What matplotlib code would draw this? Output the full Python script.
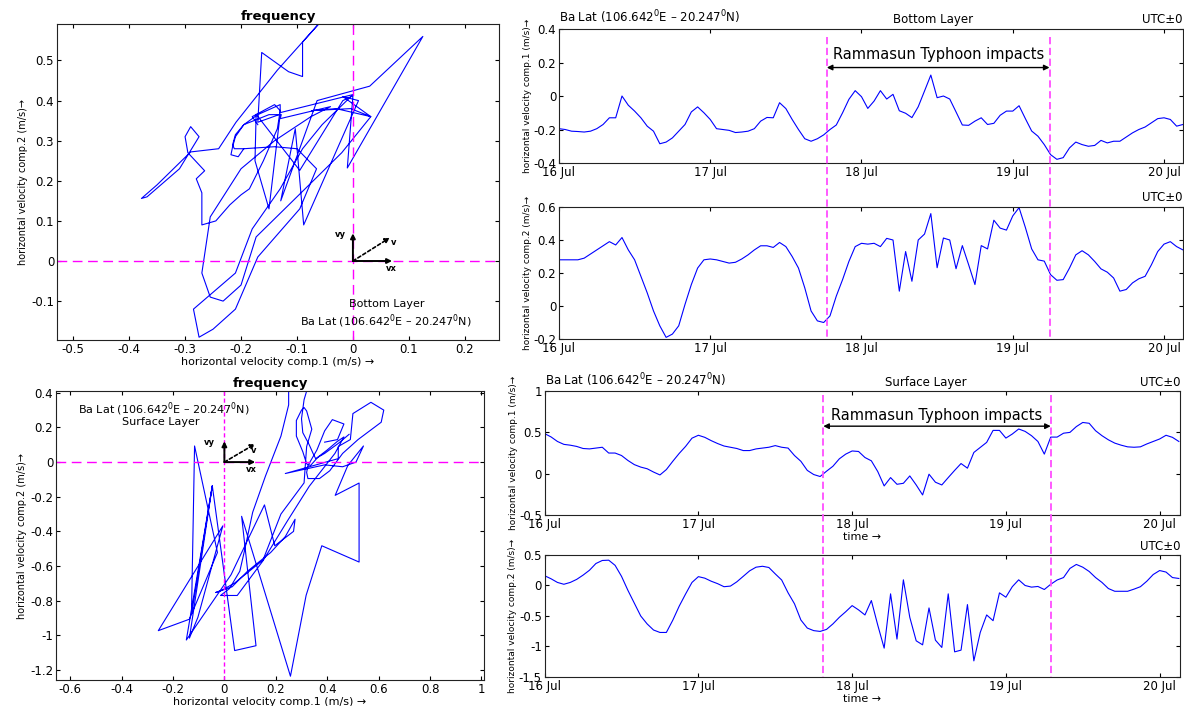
import pandas as pd
import matplotlib
matplotlib.use('Agg')
import matplotlib.pyplot as plt
import matplotlib.dates as mdates
from matplotlib.lines import Line2D
from matplotlib.ticker import FuncFormatter, MultipleLocator

plt.rcParams['font.family'] = ['DejaVu Sans']
plt.rcParams['axes.unicode_minus'] = False

# hourly samples from 16 Jul 2014 00:00 to 20 Jul 03:00
times = pd.date_range('2014-07-16 00:00', periods=100, freq='h')

# bottom layer, comp.1 / comp.2 (m/s)
bottom_u = [-0.195, -0.20, -0.21, -0.212, -0.215, -0.21, -0.195, -0.17, -0.13, -0.13,
            0.0, -0.055, -0.09, -0.13, -0.18, -0.21, -0.285, -0.275, -0.25, -0.21,
            -0.17, -0.095, -0.065, -0.10, -0.14, -0.195, -0.20, -0.205, -0.218, -0.215,
            -0.21, -0.195, -0.15, -0.128, -0.13, -0.04, -0.075, -0.14, -0.20, -0.255,
            -0.27, -0.255, -0.232, -0.20, -0.173, -0.10, -0.02, 0.032, -0.004, -0.074,
            -0.03, 0.032, -0.018, 0.01, -0.088, -0.103, -0.129, -0.064, 0.03, 0.125,
            -0.01, 0.0, -0.018, -0.095, -0.173, -0.175, -0.15, -0.13, -0.17, -0.163,
            -0.115, -0.09, -0.09, -0.058, -0.135, -0.209, -0.24, -0.29, -0.35, -0.378,
            -0.368, -0.31, -0.275, -0.29, -0.30, -0.295, -0.265, -0.28, -0.27, -0.27,
            -0.245, -0.22, -0.20, -0.185, -0.16, -0.135, -0.13, -0.14, -0.18, -0.17]
bottom_v = [0.28, 0.28, 0.28, 0.28, 0.29, 0.315, 0.34, 0.365, 0.39, 0.37,
            0.415, 0.34, 0.28, 0.18, 0.08, -0.03, -0.12, -0.19, -0.17, -0.12,
            0.01, 0.13, 0.23, 0.28, 0.285, 0.28, 0.27, 0.26, 0.265, 0.285,
            0.31, 0.34, 0.365, 0.365, 0.355, 0.385, 0.36, 0.30, 0.23, 0.11,
            -0.03, -0.09, -0.10, -0.06, 0.06, 0.16, 0.27, 0.36, 0.38, 0.375,
            0.38, 0.36, 0.41, 0.40, 0.09, 0.33, 0.15, 0.40, 0.436, 0.56,
            0.232, 0.412, 0.40, 0.226, 0.366, 0.25, 0.13, 0.366, 0.346, 0.52,
            0.472, 0.46, 0.546, 0.596, 0.476, 0.346, 0.28, 0.272, 0.19, 0.156,
            0.16, 0.23, 0.31, 0.335, 0.31, 0.27, 0.225, 0.205, 0.17, 0.09,
            0.10, 0.14, 0.165, 0.18, 0.25, 0.33, 0.375, 0.39, 0.36, 0.34]

# surface layer, comp.1 / comp.2 (m/s)
surface_u = [0.485, 0.445, 0.39, 0.355, 0.345, 0.33, 0.305, 0.30, 0.31, 0.32,
             0.25, 0.25, 0.22, 0.16, 0.11, 0.08, 0.06, 0.02, -0.015, 0.05,
             0.15, 0.245, 0.33, 0.43, 0.465, 0.44, 0.40, 0.365, 0.335, 0.32,
             0.305, 0.28, 0.28, 0.30, 0.31, 0.32, 0.34, 0.32, 0.31, 0.22,
             0.15, 0.04, -0.01, -0.034, 0.03, 0.09, 0.18, 0.237, 0.275, 0.269,
             0.196, 0.156, 0.026, -0.148, -0.047, -0.128, -0.116, -0.027, -0.136, -0.257,
             -0.006, -0.103, -0.136, -0.047, 0.04, 0.123, 0.067, 0.257, 0.318, 0.379,
             0.524, 0.524, 0.431, 0.48, 0.541, 0.512, 0.46, 0.39, 0.237, 0.443,
             0.443, 0.49, 0.50, 0.57, 0.62, 0.61, 0.52, 0.46, 0.41, 0.37,
             0.345, 0.325, 0.32, 0.325, 0.36, 0.39, 0.42, 0.465, 0.44, 0.39]
surface_v = [0.16, 0.11, 0.05, 0.02, 0.05, 0.10, 0.17, 0.25, 0.36, 0.41,
             0.415, 0.33, 0.15, -0.08, -0.29, -0.50, -0.63, -0.73, -0.77, -0.77,
             -0.57, -0.34, -0.14, 0.05, 0.145, 0.12, 0.07, 0.03, -0.02, -0.01,
             0.06, 0.15, 0.24, 0.30, 0.315, 0.295, 0.19, 0.09, -0.12, -0.30,
             -0.566, -0.698, -0.74, -0.753, -0.72, -0.63, -0.522, -0.43, -0.33, -0.40,
             -0.483, -0.247, -0.65, -1.027, -0.137, -0.879, 0.093, -0.522, -0.907, -0.973,
             -0.368, -0.896, -1.016, -0.137, -1.088, -1.06, -0.313, -1.236, -0.769, -0.483,
             -0.577, -0.121, -0.192, -0.02, 0.093, 0.0, -0.027, -0.016, -0.066, 0.02,
             0.09, 0.13, 0.28, 0.345, 0.30, 0.23, 0.13, 0.05, -0.05, -0.095,
             -0.095, -0.095, -0.06, -0.02, 0.07, 0.18, 0.245, 0.22, 0.13, 0.115]

# typhoon window as marked on each group of time series
typhoon_bottom = ['2014-07-17 18:30', '2014-07-19 05:50']
typhoon_surface = ['2014-07-17 19:30', '2014-07-19 07:00']

station = r'Ba Lat (106.642$^0$E – 20.247$^0$N)'
BLUE = '#0000ff'
MAGENTA = '#ff00ff'
PINK = '#ff4dff'

fig = plt.figure(figsize=(11.84, 7.06), dpi=100)
fmt = FuncFormatter(lambda v, p: '%g' % round(v, 6))


def style_axes(ax, fs):
    ax.tick_params(direction='in', top=True, right=True, length=3, labelsize=fs, pad=2)
    for s in ax.spines.values():
        s.set_linewidth(0.8)
        s.set_color('#222222')


def hodograph(ax, u, v, xlim, ylim, xstep, ystep, vec, labels):
    ax.plot(u, v, color=BLUE, lw=0.8)
    ax.axhline(0, color=MAGENTA, lw=1, ls=(0, (7, 4)))
    ax.axvline(0, color=MAGENTA, lw=1, ls=(0, (7, 4)))
    ax.set_xlim(*xlim)
    ax.set_ylim(*ylim)
    ax.xaxis.set_major_locator(MultipleLocator(xstep))
    ax.yaxis.set_major_locator(MultipleLocator(ystep))
    ax.xaxis.set_major_formatter(fmt)
    ax.yaxis.set_major_formatter(fmt)
    style_axes(ax, 8.5)
    ax.set_title('frequency', fontsize=9.5, fontweight='bold', pad=3)
    ax.set_xlabel('horizontal velocity comp.1 (m/s) →', fontsize=8, labelpad=1)
    ax.set_ylabel('horizontal velocity comp.2 (m/s)→', fontsize=7, labelpad=2)
    # small vector legend
    vx, vy, dx, dy = vec
    arr = dict(arrowstyle='-|>', color='k', lw=1.4, mutation_scale=7, shrinkA=0, shrinkB=0)
    ax.annotate('', xy=(vx, 0), xytext=(0, 0), arrowprops=arr)
    ax.annotate('', xy=(0, vy), xytext=(0, 0), arrowprops=arr)
    ax.annotate('', xy=(dx, dy), xytext=(0, 0),
                arrowprops=dict(arr, lw=1.2, linestyle=(0, (2, 1.5))))
    for txt, (x, y) in labels.items():
        ax.text(x, y, txt, fontsize=6, fontweight='bold', ha='center', va='center')


def series_panel(ax, values, ylim, ystep, ylabel, xend):
    ax.plot(times, values, color=BLUE, lw=0.8)
    ax.set_xlim(times[0], pd.Timestamp(xend))
    ax.set_ylim(*ylim)
    ax.yaxis.set_major_locator(MultipleLocator(ystep))
    ax.yaxis.set_major_formatter(fmt)
    ax.xaxis.set_major_locator(mdates.DayLocator())
    ax.xaxis.set_major_formatter(mdates.DateFormatter('%d %b'))
    style_axes(ax, 8.5)
    ax.set_ylabel(ylabel, fontsize=6.5, labelpad=1)
    ax.text(1, 1.02, 'UTC±0', transform=ax.transAxes, ha='right', va='bottom', fontsize=8.5)


def typhoon_marks(fig, ax_a, ax_b, window, y_start, y_arrow, y_text):
    t0, t1 = [mdates.date2num(pd.Timestamp(t)) for t in window]
    to_fig = fig.transFigure.inverted()
    for t in (t0, t1):
        # one dashed line running down through both panels and the gap between them
        top = to_fig.transform(ax_a.transData.transform((t, y_start)))
        bot = to_fig.transform(ax_b.transData.transform((t, ax_b.get_ylim()[0])))
        fig.add_artist(Line2D([top[0], bot[0]], [top[1], bot[1]], transform=fig.transFigure,
                              color=PINK, lw=1.3, linestyle=(0, (4, 2)), zorder=5))
    ax_a.annotate('', xy=(t1, y_arrow), xytext=(t0, y_arrow),
                  arrowprops=dict(arrowstyle='<|-|>', color='k', lw=1,
                                  mutation_scale=8, shrinkA=0, shrinkB=0))
    ax_a.text((t0 + t1) / 2, y_text, 'Rammasun Typhoon impacts', ha='center',
              va='center', fontsize=10.5)


# ---- bottom layer ----
ax_tl = fig.add_axes([0.0481, 0.5184, 0.3733, 0.4476])
hodograph(ax_tl, bottom_u, bottom_v, (-0.529, 0.261), (-0.197, 0.591), 0.1, 0.1,
          (0.07, 0.069, 0.066, 0.058),
          {'vy': (-0.023, 0.065), 'v': (0.072, 0.046), 'vx': (0.068, -0.018)})
ax_tl.text(0.06, -0.106, 'Bottom Layer', ha='center', va='center', fontsize=8)
ax_tl.text(0.058, -0.151, station, ha='center', va='center', fontsize=8)

ax_ta = fig.add_axes([0.4721, 0.7691, 0.5270, 0.1898])
series_panel(ax_ta, bottom_u, (-0.4, 0.4), 0.2,
             'horizontal velocity comp.1 (m/s)→', '2014-07-20 03:00')
ax_ta.text(0, 1.02, station, transform=ax_ta.transAxes, ha='left', va='bottom', fontsize=8.5)
ax_ta.text(0.6, 1.02, 'Bottom Layer', transform=ax_ta.transAxes, ha='center',
           va='bottom', fontsize=8.5)

ax_tb = fig.add_axes([0.4721, 0.5198, 0.5270, 0.1870])
series_panel(ax_tb, bottom_v, (-0.2, 0.6), 0.2,
             'horizontal velocity comp.2 (m/s)→', '2014-07-20 03:00')
typhoon_marks(fig, ax_ta, ax_tb, typhoon_bottom, 0.355, 0.17, 0.25)

# ---- surface layer ----
ax_bl = fig.add_axes([0.0473, 0.0368, 0.3615, 0.4093])
hodograph(ax_bl, surface_u, surface_v, (-0.655, 1.01), (-1.258, 0.41), 0.2, 0.2,
          (0.12, 0.12, 0.12, 0.105),
          {'vy': (-0.057, 0.115), 'v': (0.115, 0.067), 'vx': (0.105, -0.04)})
ax_bl.lines[2].set_linestyle((0, (3, 2)))
ax_bl.text(-0.236, 0.304, station, ha='center', va='center', fontsize=8)
ax_bl.text(-0.247, 0.231, 'Surface Layer', ha='center', va='center', fontsize=8)

ax_ba = fig.add_axes([0.4600, 0.2705, 0.5370, 0.1756])
series_panel(ax_ba, surface_u, (-0.5, 1.0), 0.5,
             'horizontal velocity comp.1 (m/s)→', '2014-07-20 03:15')
ax_ba.text(0, 1.02, station, transform=ax_ba.transAxes, ha='left', va='bottom', fontsize=8.5)
ax_ba.text(0.6, 1.02, 'Surface Layer', transform=ax_ba.transAxes, ha='center',
           va='bottom', fontsize=8.5)
ax_ba.set_xlabel('time →', fontsize=8, labelpad=1)

ax_bb = fig.add_axes([0.4600, 0.0411, 0.5370, 0.1728])
series_panel(ax_bb, surface_v, (-1.5, 0.5), 0.5,
             'horizontal velocity comp.2 (m/s)→', '2014-07-20 03:15')
ax_bb.set_xlabel('time →', fontsize=8, labelpad=1)
typhoon_marks(fig, ax_ba, ax_bb, typhoon_surface, 0.95, 0.575, 0.70)

fig.savefig('out.png', dpi=100)
